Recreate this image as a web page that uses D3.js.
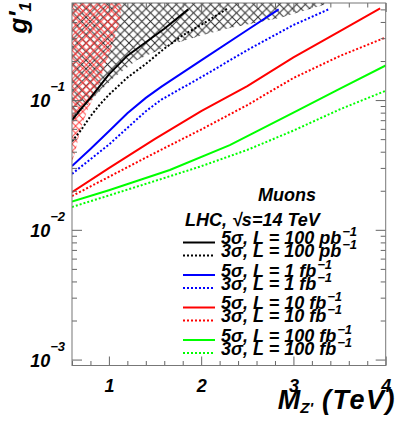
<!DOCTYPE html>
<html>
<head>
<meta charset="utf-8">
<script src="https://cdn.jsdelivr.net/npm/d3@7"></script>
<style>
body { margin: 0; background: #fff; }
text { font-family: "Liberation Sans", Arial, sans-serif; font-weight: bold; font-style: italic; }
</style>
</head>
<body>
<div id="chart"></div>
<script>
var w = 399;
var h = 424;
var margin = {left: 72, right: 13.3, top: 3, bottom: 58.5};

// discovery reach curves: mass (TeV) and coupling g'1
var massBlack5 = [0.6, 0.7, 0.8, 0.9, 1.0, 1.2, 1.4, 1.6, 1.86];
var gBlack5 = [0.070, 0.086, 0.104, 0.128, 0.158, 0.220, 0.279, 0.355, 0.50];
var massBlack3 = [0.6, 0.7, 0.8, 0.9, 1.0, 1.2, 1.4, 1.6, 1.8, 2.0, 2.29];
var gBlack3 = [0.048, 0.059, 0.075, 0.092, 0.110, 0.149, 0.190, 0.249, 0.316, 0.380, 0.51];
var massBlue5 = [0.6, 0.8, 1.0, 1.2, 1.4, 1.57, 2.0, 2.5, 2.84];
var gBlue5 = [0.031, 0.042, 0.0576, 0.079, 0.104, 0.127, 0.202, 0.347, 0.50];
var massBlue3 = [0.6, 1.0, 1.4, 1.57, 2.0, 2.5, 3.0, 3.38];
var gBlue3 = [0.027, 0.0454, 0.082, 0.101, 0.150, 0.243, 0.379, 0.50];
var massRed5 = [0.6, 1.0, 1.5, 2.0, 2.5, 3.0, 3.5, 3.94];
var gRed5 = [0.0195, 0.0299, 0.0502, 0.0823, 0.128, 0.213, 0.339, 0.51];
var massRed3 = [0.6, 1.0, 1.5, 2.0, 2.5, 3.0, 3.5, 4.0];
var gRed3 = [0.0182, 0.0256, 0.0392, 0.0593, 0.0915, 0.148, 0.218, 0.304];
var massGreen5 = [0.6, 1.0, 1.66, 2.31, 3.0, 3.5, 4.0];
var gGreen5 = [0.0165, 0.0202, 0.0289, 0.0450, 0.0799, 0.122, 0.185];
var massGreen3 = [0.6, 1.0, 1.5, 2.0, 2.5, 3.0, 3.5, 4.0];
var gGreen3 = [0.0150, 0.0184, 0.0238, 0.0309, 0.0413, 0.0582, 0.0846, 0.118];

// excluded regions (lower / right boundary)
var massExclBlack = [0.6, 0.65, 0.85, 1.05, 1.3, 1.66, 2.02, 2.31, 2.85, 3.4];
var gExclBlack = [0.065, 0.074, 0.107, 0.148, 0.203, 0.266, 0.317, 0.359, 0.429, 0.56];
var massExclRed = [1.14, 1.12, 1.04, 0.96, 0.87, 0.77, 0.69, 0.64, 0.6];
var gExclRed = [0.56, 0.41, 0.27, 0.186, 0.119, 0.084, 0.059, 0.041, 0.033];

// legend text
var sigmaLabels = ["5σ", "3σ", "5σ", "3σ", "5σ", "3σ", "5σ", "3σ"];
var lumiLabels = ["100 pb", "100 pb", "1 fb", "1 fb", "10 fb", "10 fb", "100 fb", "100 fb"];
var colors = ["#000000", "#000000", "#0000ff", "#0000ff", "#ff0000", "#ff0000", "#00ff00", "#00ff00"];

// ticks
var xMajorTicks = [1, 2, 3, 4];
var xMinorTicks = [0.6, 0.8, 1.2, 1.4, 1.6, 1.8, 2.2, 2.4, 2.6, 2.8, 3.2, 3.4, 3.6, 3.8];
var yMajorTicks = [0.001, 0.01, 0.1];
var yExponents = ["-3", "-2", "-1"];
var yMinorTicks = [0.002, 0.003, 0.004, 0.005, 0.006, 0.007, 0.008, 0.009,
    0.02, 0.03, 0.04, 0.05, 0.06, 0.07, 0.08, 0.09, 0.2, 0.3, 0.4, 0.5];

var curves = [
    {m: massBlack5, g: gBlack5}, {m: massBlack3, g: gBlack3},
    {m: massBlue5, g: gBlue5}, {m: massBlue3, g: gBlue3},
    {m: massRed5, g: gRed5}, {m: massRed3, g: gRed3},
    {m: massGreen5, g: gGreen5}, {m: massGreen3, g: gGreen3}
];

var svg = d3.select("#chart")
    .append("svg")
    .attr("width", w)
    .attr("height", h);

var xScale = d3.scaleLinear()
    .domain([0.6, 4])
    .range([margin.left, w - margin.right]);

var yScale = d3.scaleLog()
    .domain([0.0009, 0.56])
    .range([h - margin.bottom, margin.top]);

var x0 = xScale.range()[0], x1 = xScale.range()[1];
var y0 = yScale.range()[0], y1 = yScale.range()[1];

var defs = svg.append("defs");
defs.append("clipPath").attr("id", "plotclip")
    .append("rect")
    .attr("x", x0).attr("y", y1)
    .attr("width", x1 - x0).attr("height", y0 - y1);

// cross hatch patterns
var hatch = function (id, size, color, width) {
    defs.append("pattern")
        .attr("id", id)
        .attr("patternUnits", "userSpaceOnUse")
        .attr("width", size)
        .attr("height", size)
        .append("path")
        .attr("d", "M0,0L" + size + "," + size + "M" + size + ",0L0," + size)
        .attr("stroke", color)
        .attr("stroke-width", width)
        .attr("fill", "none");
};
hatch("hatchBlack", 8.6, "#2a2a2a", 1);
hatch("hatchRed", 7.2, "#ff3c3c", 1);

var plot = svg.append("g").attr("clip-path", "url(#plotclip)");

var area = d3.line()
    .x(function (d) { return xScale(d[0]); })
    .y(function (d) { return yScale(d[1]); });

// black excluded region: boundary then back along the top-left corner
var blackPoly = massExclBlack.map(function (m, i) { return [m, gExclBlack[i]]; });
blackPoly.push([0.6, 0.56]);
plot.append("path")
    .attr("d", area(blackPoly) + "Z")
    .attr("fill", "url(#hatchBlack)");

var redPoly = massExclRed.map(function (m, i) { return [m, gExclRed[i]]; });
redPoly.push([0.6, 0.56]);
plot.append("path")
    .attr("d", area(redPoly) + "Z")
    .attr("fill", "url(#hatchRed)");

// reach curves
plot.selectAll(".curve")
    .data(curves)
    .enter()
    .append("path")
    .attr("class", "curve")
    .attr("d", function (d) {
        return area(d.m.map(function (m, i) { return [m, d.g[i]]; }));
    })
    .attr("fill", "none")
    .attr("stroke", function (d, i) { return colors[i]; })
    .attr("stroke-width", 2)
    .attr("stroke-dasharray", function (d, i) { return i % 2 ? "2,2" : null; });

// axes, ROOT style ticks pointing inwards on all four sides
var styleAxis = function (g) {
    g.select(".domain").remove();
    g.selectAll("line").attr("stroke", "#666");
    g.attr("font-family", null).attr("font-size", null);
};

svg.append("g")
    .attr("transform", "translate(0," + y0 + ")")
    .call(d3.axisBottom(xScale).tickValues(xMajorTicks).tickSize(-9).tickSizeOuter(0)
        .tickPadding(14).tickFormat(d3.format("d")))
    .call(styleAxis)
    .selectAll("text")
    .attr("font-size", "18px")
    .attr("fill", "#000");

svg.append("g")
    .attr("transform", "translate(0," + y0 + ")")
    .call(d3.axisBottom(xScale).tickValues(xMinorTicks).tickSize(-4.5).tickSizeOuter(0).tickFormat(""))
    .call(styleAxis);

svg.append("g")
    .attr("transform", "translate(0," + y1 + ")")
    .call(d3.axisTop(xScale).tickValues(xMajorTicks).tickSize(-9).tickSizeOuter(0).tickFormat(""))
    .call(styleAxis);

svg.append("g")
    .attr("transform", "translate(0," + y1 + ")")
    .call(d3.axisTop(xScale).tickValues(xMinorTicks).tickSize(-4.5).tickSizeOuter(0).tickFormat(""))
    .call(styleAxis);

svg.append("g")
    .attr("transform", "translate(" + x0 + ",0)")
    .call(d3.axisLeft(yScale).tickValues(yMajorTicks).tickSize(-10).tickSizeOuter(0).tickFormat(""))
    .call(styleAxis);

svg.append("g")
    .attr("transform", "translate(" + x0 + ",0)")
    .call(d3.axisLeft(yScale).tickValues(yMinorTicks).tickSize(-5).tickSizeOuter(0).tickFormat(""))
    .call(styleAxis);

svg.append("g")
    .attr("transform", "translate(" + x1 + ",0)")
    .call(d3.axisRight(yScale).tickValues(yMajorTicks).tickSize(-10).tickSizeOuter(0).tickFormat(""))
    .call(styleAxis);

svg.append("g")
    .attr("transform", "translate(" + x1 + ",0)")
    .call(d3.axisRight(yScale).tickValues(yMinorTicks).tickSize(-5).tickSizeOuter(0).tickFormat(""))
    .call(styleAxis);

// frame
svg.append("rect")
    .attr("x", x0).attr("y", y1)
    .attr("width", x1 - x0).attr("height", y0 - y1)
    .attr("fill", "none")
    .attr("stroke", "#777")
    .attr("stroke-width", 1);

// y tick labels 10^n
var ylab = svg.selectAll(".ylab")
    .data(yMajorTicks)
    .enter()
    .append("text")
    .attr("class", "ylab")
    .attr("x", x0 - 7)
    .attr("y", function (d) { return yScale(d) + 7; })
    .attr("text-anchor", "end");
ylab.append("tspan").attr("font-size", "18px").text("10");
ylab.append("tspan").attr("font-size", "13px").attr("dy", -16)
    .text(function (d, i) { return yExponents[i].replace("-", "\u2212"); });

// axis titles
var xt = svg.append("text")
    .attr("x", 396)
    .attr("y", 409)
    .attr("text-anchor", "end");
xt.append("tspan").attr("font-size", "27px").text("M");
xt.append("tspan").attr("font-size", "15px").attr("dy", 4).text("Z'");
xt.append("tspan").attr("font-size", "27px").attr("dy", -4).attr("letter-spacing", "1.5px").text(" (TeV)");

var yt = svg.append("text")
    .attr("transform", "translate(27,2) rotate(-90)")
    .attr("text-anchor", "end");
yt.append("tspan").attr("font-size", "26px").text("g'");
yt.append("tspan").attr("font-size", "17px").attr("dy", 4).text("1");

// legend
svg.append("text")
    .attr("x", 258).attr("y", 201)
    .attr("font-size", "18px")
    .text("Muons");
svg.append("text")
    .attr("x", 185).attr("y", 226)
    .attr("font-size", "18px")
    .text("LHC, √s=14 TeV");

var legendY = [242.5, 255.5, 275, 288, 307.5, 320.5, 340, 353];

var leg = svg.selectAll(".leg")
    .data(sigmaLabels)
    .enter()
    .append("g")
    .attr("class", "leg")
    .attr("transform", function (d, i) { return "translate(0," + legendY[i] + ")"; });

leg.append("line")
    .attr("x1", 183).attr("x2", 215)
    .attr("stroke", function (d, i) { return colors[i]; })
    .attr("stroke-width", 2)
    .attr("stroke-dasharray", function (d, i) { return i % 2 ? "2,2" : null; });

var legText = leg.append("text")
    .attr("x", 221)
    .attr("y", 1.5)
    .attr("font-size", "18px");
legText.append("tspan").text(function (d, i) { return d + ", L = " + lumiLabels[i]; });
legText.append("tspan").attr("font-size", "13px").attr("dy", -8).attr("dx", 1).text("\u22121");
</script>
</body>
</html>
